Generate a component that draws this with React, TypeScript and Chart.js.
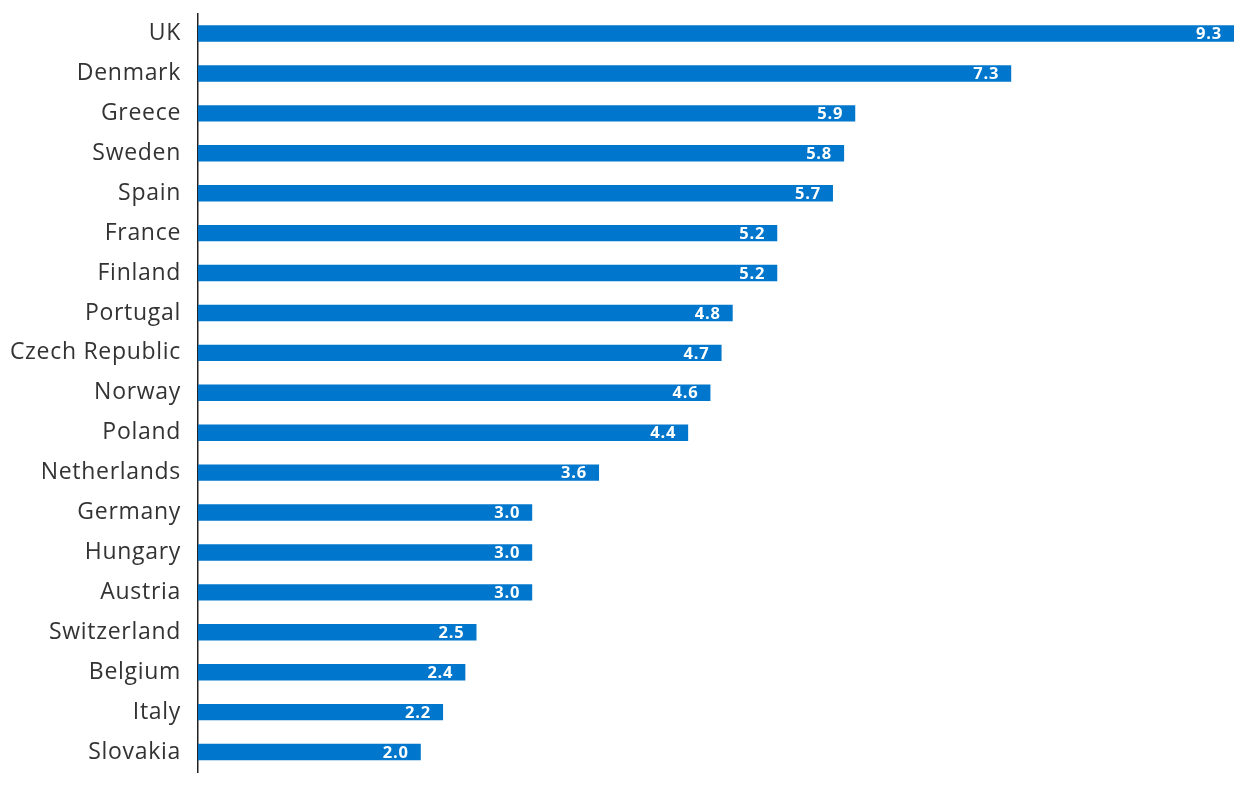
import React, { useEffect, useRef } from "react";
import { Chart, registerables } from "chart.js";

Chart.register(...registerables);

const categories = [
  "UK", "Denmark", "Greece", "Sweden", "Spain", "France", "Finland", "Portugal",
  "Czech Republic", "Norway", "Poland", "Netherlands", "Germany", "Hungary",
  "Austria", "Switzerland", "Belgium", "Italy", "Slovakia",
];
const values = [9.3, 7.3, 5.9, 5.8, 5.7, 5.2, 5.2, 4.8, 4.7, 4.6, 4.4, 3.6, 3.0, 3.0, 3.0, 2.5, 2.4, 2.2, 2.0];

const FONT = "'Open Sans', sans-serif";

const spacing = {
  id: "spacing",
  beforeDraw(chart: any) {
    (chart.ctx as any).letterSpacing = "0.7px";
  },
  afterDraw(chart: any) {
    (chart.ctx as any).letterSpacing = "0px";
  },
};

const valueLabels = {
  id: "valueLabels",
  afterDatasetsDraw(chart: any) {
    const ctx = chart.ctx;
    const meta = chart.getDatasetMeta(0);
    ctx.save();
    (ctx as any).letterSpacing = "0.8px";
    ctx.fillStyle = "#ffffff";
    ctx.font = `bold 16.5px ${FONT}`;
    ctx.textAlign = "right";
    ctx.textBaseline = "middle";
    meta.data.forEach((bar: any, i: number) => {
      ctx.fillText(values[i].toFixed(1), bar.x - 12, bar.y + 1);
    });
    ctx.restore();
  },
};

export default function App() {
  const ref = useRef<HTMLCanvasElement>(null);
  useEffect(() => {
    const chart = new Chart(ref.current!, {
      type: "bar",
      data: {
        labels: categories,
        datasets: [
          {
            data: values,
            backgroundColor: "#0077cc",
            barPercentage: 0.41,
            categoryPercentage: 1,
          },
        ],
      },
      options: {
        indexAxis: "y",
        animation: false,
        responsive: false,
        layout: { padding: { left: 0, right: 16, top: 9, bottom: 18 } },
        plugins: { legend: { display: false }, tooltip: { enabled: false } },
        scales: {
          x: { display: false, min: 0, max: 9.3 },
          y: {
            grid: { display: false, drawTicks: false },
            border: { display: true, color: "#222222", width: 1.5 },
            ticks: {
              color: "#333333",
              font: { family: FONT, size: 23, lineHeight: 0.05 },
              padding: 17,
            },
            afterFit(scale: any) {
              scale.width = 198;
            },
          },
        },
      },
      plugins: [spacing, valueLabels],
    });
    return () => chart.destroy();
  }, []);
  return (
    <div style={{ position: "fixed", left: 0, top: -4, width: 1250, height: 794, background: "#fff" }}>
      <canvas ref={ref} width={1250} height={794} />
    </div>
  );
}
